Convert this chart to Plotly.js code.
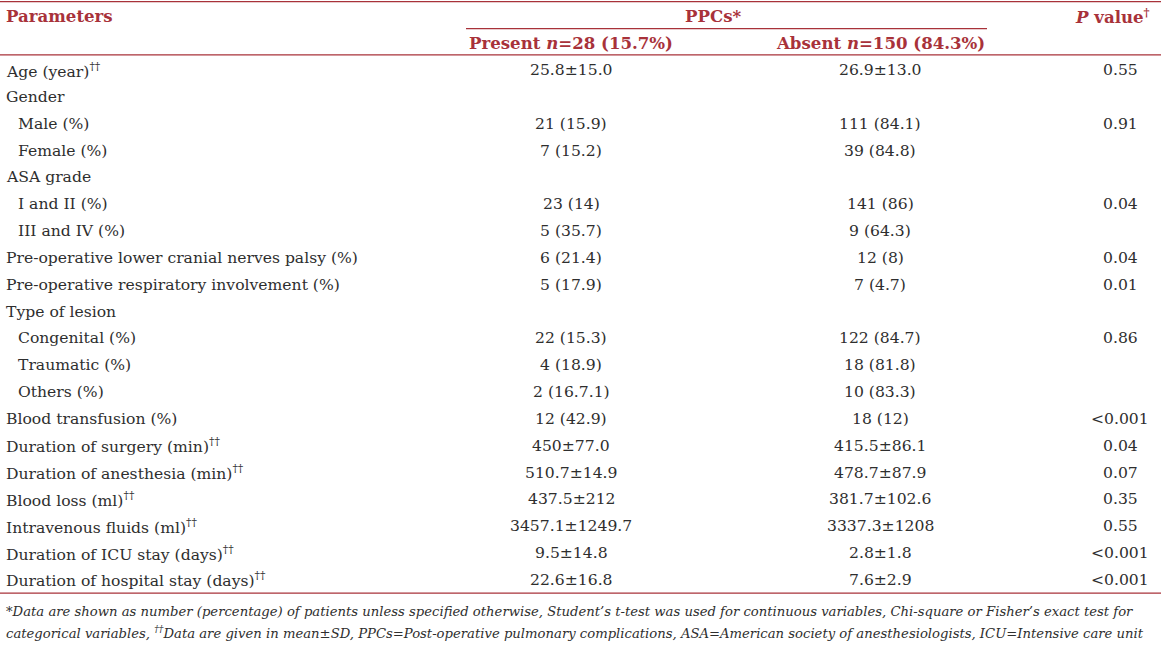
<!DOCTYPE html>
<html>
<head>
<meta charset="utf-8">
<script src="https://cdn.plot.ly/plotly-3.0.1.min.js"></script>
<style>html,body{margin:0;padding:0;background:#fff;}#chart{width:1161px;height:645px;}</style>
</head>
<body>
<div id="chart"></div>
<script>
// ---- data ----
const parameters = [
  "Age (year)<sup>††</sup>", "Gender", "Male (%)", "Female (%)", "ASA grade",
  "I and II (%)", "III and IV (%)", "Pre-operative lower cranial nerves palsy (%)",
  "Pre-operative respiratory involvement (%)", "Type of lesion", "Congenital (%)",
  "Traumatic (%)", "Others (%)", "Blood transfusion (%)",
  "Duration of surgery (min)<sup>††</sup>", "Duration of anesthesia (min)<sup>††</sup>",
  "Blood loss (ml)<sup>††</sup>", "Intravenous fluids (ml)<sup>††</sup>",
  "Duration of ICU stay (days)<sup>††</sup>", "Duration of hospital stay (days)<sup>††</sup>"
];
const level = [0,0,1,1,0,1,1,0,0,0,1,1,1,0,0,0,0,0,0,0];
const present = [
  "25.8±15.0", "", "21 (15.9)", "7 (15.2)", "", "23 (14)", "5 (35.7)", "6 (21.4)",
  "5 (17.9)", "", "22 (15.3)", "4 (18.9)", "2 (16.7.1)", "12 (42.9)", "450±77.0",
  "510.7±14.9", "437.5±212", "3457.1±1249.7", "9.5±14.8", "22.6±16.8"
];
const absent = [
  "26.9±13.0", "", "111 (84.1)", "39 (84.8)", "", "141 (86)", "9 (64.3)", "12 (8)",
  "7 (4.7)", "", "122 (84.7)", "18 (81.8)", "10 (83.3)", "18 (12)", "415.5±86.1",
  "478.7±87.9", "381.7±102.6", "3337.3±1208", "2.8±1.8", "7.6±2.9"
];
const pValues = [
  "0.55", "", "0.91", "", "", "0.04", "", "0.04", "0.01", "", "0.86", "", "",
  "&lt;0.001", "0.04", "0.07", "0.35", "0.55", "&lt;0.001", "&lt;0.001"
];
const headerTop = ["Parameters", "PPCs*", "<i>P</i> value<sup>†</sup>"];
const headerSub = ["Present <i>n</i>=28 (15.7%)", "Absent <i>n</i>=150 (84.3%)"];
const footnotes = [
  "*Data are shown as number (percentage) of patients unless specified otherwise, Student’s t-test was used for continuous variables, Chi-square or Fisher’s exact test for",
  "categorical variables, <sup>††</sup>Data are given in mean±SD, PPCs=Post-operative pulmonary complications, ASA=American society of anesthesiologists, ICU=Intensive care unit"
];

// ---- layout ----
const FONT = "DejaVu Serif";
const TXT = "#2e2e2e";
const RED = "#a8323a";
const colX = {param: 4, indent: 16, present: 571, absent: 880, p: 1120, ppcs: 713, pHead: 1152};
const ann = [];
function add(x, y, text, opts) {
  ann.push(Object.assign({x: x, y: y, xref: "x", yref: "y", text: text, showarrow: false,
    xanchor: "left", yanchor: "middle",
    font: {family: FONT, size: 15.6, color: TXT}}, opts || {}));
}
const boldRed = {family: FONT, size: 16.6, color: RED, weight: "bold"};
add(colX.param, -2, "<b>" + headerTop[0] + "</b>", {font: boldRed});
add(colX.ppcs, -2, "<b>" + headerTop[1] + "</b>", {font: boldRed, xanchor: "center"});
add(colX.pHead, -2, "<b>" + headerTop[2] + "</b>", {font: boldRed, xanchor: "right"});
add(colX.present, -1, "<b>" + headerSub[0] + "</b>", {font: boldRed, xanchor: "center"});
add(colX.absent, -1, "<b>" + headerSub[1] + "</b>", {font: boldRed, xanchor: "center"});

parameters.forEach((t, i) => {
  add(level[i] ? colX.indent : colX.param, i, t);
  if (present[i]) add(colX.present, i, present[i], {xanchor: "center"});
  if (absent[i]) add(colX.absent, i, absent[i], {xanchor: "center"});
  if (pValues[i]) add(colX.p, i, pValues[i], {xanchor: "center"});
});
const footY = [20.17, 20.95];
footnotes.forEach((t, k) => {
  add(colX.param, footY[k], "<i>" + t + "</i>", {font: {family: FONT, size: 13.2, color: TXT}});
});

const lineStyle = {color: RED, width: 1.3};
const shapes = [
  {type: "line", xref: "x", yref: "y", x0: 0, x1: 1161, y0: -2.55, y1: -2.55, line: lineStyle},
  {type: "line", xref: "x", yref: "y", x0: 466, x1: 987, y0: -1.54, y1: -1.54, line: lineStyle},
  {type: "line", xref: "x", yref: "y", x0: 0, x1: 1161, y0: -0.56, y1: -0.56, line: lineStyle},
  {type: "line", xref: "x", yref: "y", x0: 0, x1: 1161, y0: 19.49, y1: 19.49, line: lineStyle}
];

const layout = {
  width: 1161, height: 645,
  margin: {l: 0, r: 0, t: 0, b: 0, pad: 0},
  paper_bgcolor: "#ffffff", plot_bgcolor: "#ffffff",
  showlegend: false,
  xaxis: {range: [0, 1161], visible: false, fixedrange: true},
  yaxis: {range: [21.422, -2.608], visible: false, fixedrange: true},
  annotations: ann,
  shapes: shapes
};
Plotly.newPlot("chart", [{x: [], y: [], type: "scatter", mode: "markers"}], layout, {staticPlot: true, displayModeBar: false});
</script>
</body>
</html>
